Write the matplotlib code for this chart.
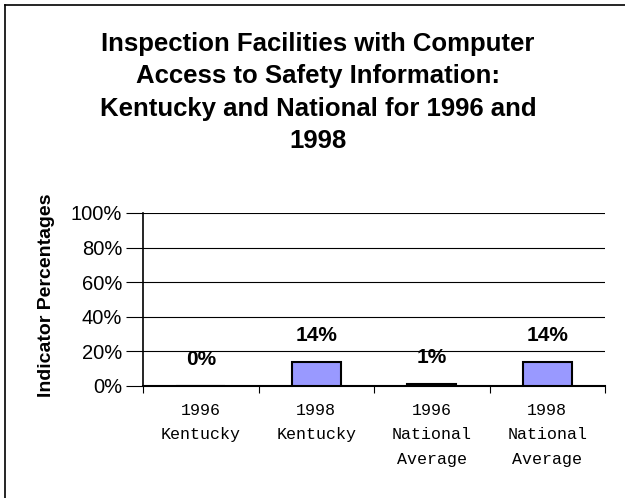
import matplotlib
matplotlib.use('Agg')
import matplotlib.pyplot as plt
from matplotlib.ticker import FixedLocator, PercentFormatter
from matplotlib.lines import Line2D

categories = ['1996\nKentucky', '1998\nKentucky', '1996\nNational\nAverage', '1998\nNational\nAverage']
values = [0, 14, 1, 14]
labels = ['0%', '14%', '1%', '14%']

plt.rcParams['font.family'] = ['Liberation Sans', 'DejaVu Sans']

fig = plt.figure(figsize=(6.25, 4.98), dpi=100)
ax = fig.add_axes([0.2288, 0.2249, 0.968 - 0.2288, 0.5723 - 0.2249])

x = list(range(len(values)))
ax.bar(x, values, width=0.42, color='#9999ff', edgecolor='black', linewidth=1.5, zorder=3)
for i in range(len(values)):
    ax.annotate(labels[i], (x[i], values[i]), xytext=(0, 19), textcoords='offset points',
                ha='center', va='center', fontsize=15, fontweight='bold')

ax.set_xlim(-0.5, 3.5)
ax.set_ylim(0, 100)
ax.set_yticks([0, 20, 40, 60, 80, 100])
ax.yaxis.set_major_formatter(PercentFormatter(decimals=0))
ax.tick_params(axis='y', labelsize=14.5, length=12, width=0.8, direction='out', pad=3)
ax.grid(axis='y', color='black', linewidth=0.8, zorder=0)

ax.set_xticks(x)
ax.set_xticklabels(categories, fontfamily='Liberation Mono', fontsize=12, linespacing=1.8, va='top')
ax.tick_params(axis='x', which='major', length=0, pad=12)
ax.xaxis.set_minor_locator(FixedLocator([-0.5, 0.5, 1.5, 2.5, 3.5]))
ax.tick_params(axis='x', which='minor', length=5, width=0.8)

for s in ['top', 'right']:
    ax.spines[s].set_visible(False)
ax.spines['left'].set_linewidth(1.2)
ax.spines['bottom'].set_linewidth(1.5)

ax.set_ylabel('Indicator Percentages', fontsize=14, fontweight='bold')
ax.yaxis.set_label_coords(-0.19, 0.526)

fig.text(0.509, 0.814, 'Inspection Facilities with Computer\nAccess to Safety Information:\nKentucky and National for 1996 and\n1998',
         ha='center', va='center', fontsize=18.5, fontweight='bold', linespacing=1.44)

# outer frame (only top and left visible in the picture)
fig.add_artist(Line2D([0.0072, 0.0072], [0, 0.99], transform=fig.transFigure, color='black', linewidth=1.2))
fig.add_artist(Line2D([0.0072, 1.0], [0.99, 0.99], transform=fig.transFigure, color='black', linewidth=1.2))

fig.savefig('out.png', dpi=100)
